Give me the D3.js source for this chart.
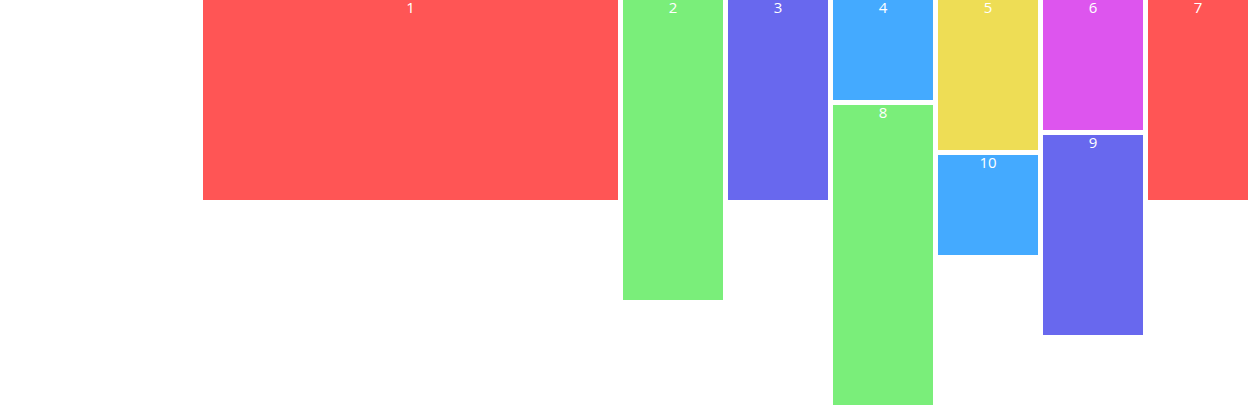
<!DOCTYPE html>
<html><head><meta charset="utf-8">
<script src="https://cdn.jsdelivr.net/npm/d3@7"></script>
<style>html,body{margin:0;padding:0;background:#fff;overflow:hidden}svg{display:block}</style>
</head><body>
<svg id="chart" width="1248" height="405"></svg>
<script>
const labels = ["1","2","3","4","5","6","7","8","9","10"];
const spans = [4,1,1,1,1,1,1,1,1,1];
const heights = [200,300,200,100,150,130,200,300,200,100];
const palette = ["#ff5555","#7aee7a","#6868ee","#44aaff","#eedd55","#dd55ee"];
const nCols = 10;

const svg = d3.select("#chart");
const gutter = 5;
const x = d3.scaleLinear().domain([0, nCols]).range([203, 203 + nCols*105]);
const y = d3.scaleLinear().domain([0, 405]).range([0, 405]);

// masonry placement
const colBottoms = new Array(nCols).fill(0);
const items = [];
let nextCol = 0;
labels.forEach((lab, i) => {
  const span = spans[i];
  let col;
  if (nextCol + span <= nCols && i < 7) { col = nextCol; nextCol += span; }
  else {
    col = 0; let best = Infinity;
    for (let c = 0; c + span <= nCols; c++) {
      const b = d3.max(colBottoms.slice(c, c+span));
      if (b < best) { best = b; col = c; }
    }
  }
  const top = d3.max(colBottoms.slice(col, col+span));
  const y0 = top === 0 ? 0 : top + gutter;
  for (let c = col; c < col+span; c++) colBottoms[c] = y0 + heights[i];
  items.push({lab, col, span, y0, h: heights[i], color: palette[i % palette.length]});
});

const g = svg.selectAll("g.item").data(items).join("g").attr("class","item");
g.append("rect")
  .attr("x", d => x(d.col))
  .attr("y", d => y(d.y0))
  .attr("width", d => x(d.col + d.span) - x(d.col) - gutter)
  .attr("height", d => y(d.h))
  .attr("fill", d => d.color);
g.append("text")
  .attr("x", d => (x(d.col) + x(d.col + d.span) - gutter) / 2)
  .attr("y", d => y(d.y0) + 13)
  .attr("text-anchor","middle")
  .attr("fill","#fff")
  .attr("font-family","'Open Sans', sans-serif")
  .attr("font-size", 15)
  .text(d => d.lab);
</script>
</body></html>
